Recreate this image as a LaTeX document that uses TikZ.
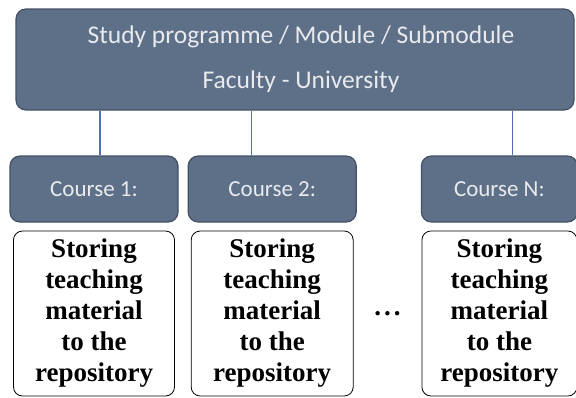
\documentclass[tikz,border=0pt]{standalone}
\usepackage{fontspec}
\setmainfont{Liberation Serif}
\newfontfamily\calibri{Carlito}
\usetikzlibrary{positioning,calc}
\definecolor{boxgray}{RGB}{94,112,136}
\definecolor{boxedge}{RGB}{66,80,100}
\definecolor{boxtext}{RGB}{232,234,238}
\definecolor{linkblue}{RGB}{84,110,180}

\begin{document}
\begin{tikzpicture}[x=1pt,y=-1pt,
    graybox/.style={draw=boxedge, line width=1.2pt, fill=boxgray,
        rounded corners=10pt, text=boxtext, font=\calibri\fontsize{23}{27}\selectfont},
    textbox/.style={draw, line width=0.8pt, rounded corners=9pt, align=center,
        minimum width=161pt, minimum height=165pt, inner sep=0pt,
        font=\fontsize{27}{31}\bfseries\selectfont},
    link/.style={draw=linkblue, line width=1.4pt}
]
    \useasboundingbox (0,0) rectangle (576,397);
    % Faculty
    \node [graybox,
        minimum width=558pt,
        minimum height=101pt,
        align=center,
        font=\calibri\fontsize{25.5}{30}\selectfont
    ]  (Faculty) at (295,59.5) {Study programme / Module / Submodule\hspace*{-12pt}\\[15pt] Faculty - University\hspace*{-12pt}};
    % Courses
    \node [graybox,
        minimum width=168pt,
        minimum height=66pt
    ]  (Course1) at (94,189) {Course 1:};
    \node [graybox,
        minimum width=168pt,
        minimum height=66pt,
        right=9pt of Course1
    ]  (Course2) {Course 2:};
    \node [graybox,
        minimum width=156pt,
        minimum height=66pt,
        right=64pt of Course2
    ]  (CourseN) {Course N:};
    % Storing
    \node [textbox,
        below=8pt of Course1
    ]  (Store1) {Storing\\teaching\\material\\to the\\repository};
    \node [textbox,
        minimum width=162pt,
        below=8pt of Course2
    ]  (Store2) {Storing\\teaching\\material\\to the\\repository};
    \node [textbox,
        minimum width=155pt,
        below=8pt of CourseN
    ]  (StoreN) {Storing\\teaching\\material\\to the\\repository};
    \node [font=\fontsize{27}{31}\bfseries\selectfont, inner sep=0pt] (Dots) at ($(Store2.east)!0.5!(StoreN.west)$) {.\hspace{3pt}.\hspace{3pt}.};

    \draw[link] ([xshift=6pt]Course1.north) -- ([xshift=6pt]Course1.north |- Faculty.south);
    \draw[link] ([xshift=-21pt]Course2.north) -- ([xshift=-21pt]Course2.north |- Faculty.south);
    \draw[link] ([xshift=13pt]CourseN.north) -- ([xshift=13pt]CourseN.north |- Faculty.south);
\end{tikzpicture}
\end{document}
